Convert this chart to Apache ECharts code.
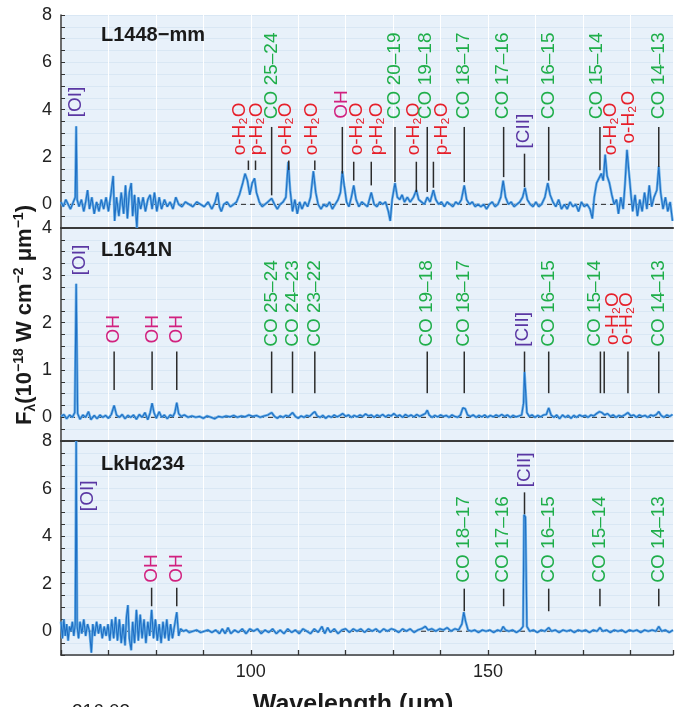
<!DOCTYPE html>
<html><head><meta charset="utf-8">
<script src="https://cdn.jsdelivr.net/npm/echarts@6/dist/echarts.min.js"></script>
<style>html,body{margin:0;padding:0;background:#fff}#c{width:676px;height:707px}</style>
</head><body><div id="c"></div>
<script>
// ---------- DATA ----------
const xMin = 60, xMax = 189;
const xTickLabels = [100, 150];
const yLabels1 = [0, 2, 4, 6, 8];
const yLabels2 = [0, 1, 2, 3, 4];
const yLabels3 = [0, 2, 4, 6, 8];
const panelNames = ['L1448\u2212mm', 'L1641N', 'LkH\u03b1234'];

// L1448-mm spectrum [wavelength (um), flux]
const spec1 = [[60.0,0.1],[60.5,-0.1],[61.0,0.2],[61.5,0.0],[62.0,-0.2],[62.6,0.1],[63.0,0.3],[63.2,3.3],[63.4,0.2],[63.8,-0.1],[64.3,0.2],[64.8,-0.3],[65.2,0.1],[65.6,0.6],[66.0,-0.2],[66.5,0.3],[67.0,-0.4],[67.5,0.1],[68.0,-0.3],[68.5,0.2],[69.0,-0.2],[69.5,0.3],[70.0,-0.3],[70.5,0.4],[71.0,1.2],[71.3,-0.7],[71.7,0.3],[72.2,-0.5],[72.7,0.5],[73.2,-0.4],[73.6,0.8],[74.0,-0.6],[74.4,0.5],[74.8,0.9],[75.1,-0.5],[75.5,0.4],[76.0,-1.0],[76.3,0.3],[76.8,-0.2],[77.3,0.3],[77.8,-0.3],[78.3,0.2],[78.8,0.4],[79.2,-0.2],[79.7,0.5],[80.2,-0.3],[80.7,0.3],[81.2,-0.2],[81.8,0.2],[82.4,-0.1],[83.0,0.1],[83.6,-0.2],[84.2,0.3],[84.8,0.0],[85.5,-0.1],[86.2,0.1],[87.0,0.0],[87.8,-0.1],[88.6,0.1],[89.4,0.0],[90.2,-0.1],[91.0,0.1],[91.8,-0.2],[92.5,0.1],[93.0,0.5],[93.4,-0.1],[93.8,-0.3],[94.3,0.0],[95.0,0.1],[95.7,-0.1],[96.4,0.0],[97.0,0.1],[97.6,0.4],[98.3,0.9],[98.8,1.3],[99.3,1.0],[99.8,0.4],[100.3,0.9],[100.8,1.1],[101.2,0.5],[101.8,0.1],[102.4,-0.1],[103.0,0.0],[103.6,0.1],[104.4,0.25],[105.0,0.0],[105.6,-0.2],[106.2,0.0],[106.8,0.1],[107.4,0.3],[107.9,1.8],[108.3,0.6],[108.8,-0.3],[109.3,0.2],[109.8,-0.4],[110.3,0.1],[110.8,-0.2],[111.4,0.1],[112.0,-0.1],[112.6,0.3],[113.2,1.4],[113.7,0.5],[114.2,0.0],[114.8,-0.2],[115.4,0.0],[116.0,-0.1],[116.6,0.1],[117.2,-0.2],[117.8,0.0],[118.4,0.2],[118.9,0.5],[119.3,1.4],[119.7,0.8],[120.2,0.1],[120.7,-0.1],[121.2,0.3],[121.7,0.8],[122.2,0.2],[122.8,-0.1],[123.4,0.1],[124.0,0.0],[124.6,-0.1],[125.4,0.5],[126.0,0.0],[126.6,-0.1],[127.2,0.1],[127.8,0.0],[128.4,0.1],[129.0,-0.3],[129.4,-0.7],[129.8,0.2],[130.4,0.9],[130.9,0.3],[131.4,0.2],[131.9,0.4],[132.4,0.1],[133.0,0.3],[133.6,0.1],[134.3,0.3],[134.9,0.6],[135.4,0.2],[136.0,0.1],[136.6,0.0],[137.2,0.3],[137.8,0.1],[138.5,0.6],[139.0,0.2],[139.6,0.0],[140.2,0.1],[140.8,-0.1],[141.4,0.1],[142.0,0.0],[142.6,-0.1],[143.2,0.1],[143.8,0.0],[144.4,0.2],[145.0,0.8],[145.5,0.2],[146.1,0.0],[146.7,0.1],[147.3,-0.1],[147.9,0.0],[148.5,-0.1],[149.1,0.0],[149.7,-0.2],[150.3,0.0],[150.9,0.1],[151.5,-0.1],[152.1,0.0],[152.7,0.3],[153.2,1.0],[153.7,0.3],[154.3,0.0],[154.9,0.1],[155.5,-0.1],[156.1,0.0],[156.7,0.1],[157.3,0.3],[157.8,0.7],[158.3,0.2],[158.9,0.0],[159.5,-0.1],[160.1,0.1],[160.7,-0.1],[161.3,0.0],[162.0,0.3],[162.6,0.9],[163.1,0.4],[163.7,0.1],[164.3,-0.1],[164.9,0.2],[165.5,-0.2],[166.1,0.0],[166.7,-0.2],[167.3,0.1],[167.9,-0.1],[168.5,0.0],[169.1,-0.3],[169.7,0.1],[170.3,-0.1],[170.9,0.0],[171.5,-0.2],[172.0,-0.6],[172.4,0.3],[172.9,0.9],[173.4,1.1],[173.9,1.3],[174.3,1.0],[174.7,2.1],[175.1,1.2],[175.6,0.9],[176.1,0.4],[176.6,0.0],[177.1,0.2],[177.5,-0.4],[178.0,0.3],[178.5,-0.2],[178.9,0.9],[179.3,2.3],[179.7,1.4],[180.1,0.5],[180.5,-0.3],[181.0,0.4],[181.5,-0.5],[182.0,0.2],[182.5,-0.3],[183.0,0.5],[183.5,-0.2],[184.0,0.8],[184.5,-0.1],[185.0,0.3],[185.6,0.6],[186.0,1.6],[186.4,0.5],[186.9,-0.2],[187.4,0.3],[187.9,-0.3],[188.4,0.1],[188.9,-0.7]];

// L1641N spectrum
const spec2 = [[60.0,0.02],[60.6,0.06],[61.2,-0.03],[61.8,0.05],[62.4,0.0],[62.9,0.1],[63.2,2.82],[63.5,0.08],[64.0,-0.04],[64.6,0.05],[65.2,0.0],[65.8,0.12],[66.3,-0.05],[67.0,0.04],[67.6,-0.03],[68.2,0.05],[68.8,0.0],[69.4,0.04],[70.0,-0.02],[70.6,0.06],[71.2,0.25],[71.7,0.05],[72.3,0.0],[72.9,0.06],[73.5,-0.03],[74.1,0.04],[74.7,0.0],[75.3,0.05],[75.9,-0.04],[76.5,0.06],[77.1,0.0],[77.7,0.1],[78.3,-0.05],[78.8,0.1],[79.2,0.3],[79.6,0.1],[80.1,-0.02],[80.7,0.12],[81.2,0.0],[81.8,0.05],[82.4,-0.03],[83.0,0.05],[83.6,0.02],[84.0,0.1],[84.4,0.31],[84.8,0.08],[85.3,0.02],[86.0,0.05],[86.8,0.0],[87.6,0.03],[88.4,0.0],[89.2,0.02],[90.0,-0.02],[90.8,0.03],[91.6,0.0],[92.4,-0.03],[93.2,0.02],[94.0,0.0],[94.8,0.03],[95.6,0.01],[96.4,0.04],[97.2,0.0],[98.0,0.03],[98.8,0.01],[99.6,0.05],[100.4,0.02],[101.2,0.04],[102.0,0.0],[102.8,0.03],[103.6,0.05],[104.4,0.1],[105.0,0.02],[105.6,-0.02],[106.2,0.03],[106.8,0.0],[107.4,0.04],[108.0,0.02],[108.8,0.1],[109.4,0.02],[110.0,-0.02],[110.6,0.03],[111.2,0.0],[111.8,0.04],[112.4,0.02],[113.0,0.08],[113.5,0.12],[114.0,0.03],[114.6,0.0],[115.2,0.04],[115.8,-0.02],[116.4,0.03],[117.0,0.0],[117.6,0.05],[118.2,0.01],[118.8,0.04],[119.4,0.08],[120.0,0.02],[120.6,0.05],[121.2,0.0],[121.8,0.04],[122.4,0.01],[123.0,0.05],[123.6,0.02],[124.2,0.07],[124.8,0.03],[125.4,0.05],[126.0,0.0],[126.6,0.05],[127.2,0.02],[127.8,0.06],[128.4,0.01],[129.0,0.05],[129.6,0.03],[130.2,0.08],[130.8,0.02],[131.4,0.05],[132.0,0.0],[132.6,0.06],[133.2,0.02],[133.8,0.05],[134.4,0.01],[135.0,0.06],[135.6,0.02],[136.2,0.05],[136.8,0.08],[137.2,0.15],[137.6,0.05],[138.2,0.0],[138.8,0.04],[139.4,0.01],[140.0,0.05],[140.6,0.02],[141.2,0.04],[141.8,0.0],[142.4,0.05],[143.0,0.02],[143.6,0.0],[144.2,0.05],[144.7,0.2],[145.2,0.18],[145.7,0.05],[146.3,0.02],[146.9,0.05],[147.5,0.0],[148.1,0.04],[148.7,0.01],[149.3,0.05],[149.9,0.0],[150.5,0.04],[151.1,0.01],[151.7,0.05],[152.3,0.02],[152.9,0.06],[153.5,0.02],[154.1,0.05],[154.7,0.0],[155.3,0.04],[155.9,0.01],[156.5,0.03],[157.1,0.05],[157.5,0.3],[157.7,0.96],[157.9,0.95],[158.2,0.1],[158.7,0.02],[159.3,0.05],[159.9,0.0],[160.5,0.04],[161.1,0.01],[161.7,0.05],[162.3,0.06],[162.8,0.2],[163.3,0.05],[163.9,0.0],[164.5,0.05],[165.1,-0.03],[165.7,0.05],[166.3,0.0],[166.9,0.04],[167.5,-0.02],[168.1,0.04],[168.7,0.0],[169.3,0.05],[169.9,0.02],[170.5,0.04],[171.1,0.0],[171.7,0.05],[172.3,0.03],[172.9,0.08],[173.5,0.12],[174.0,0.1],[174.6,0.05],[175.2,0.08],[175.8,0.02],[176.4,0.05],[177.0,0.0],[177.6,0.04],[178.2,0.02],[178.8,0.05],[179.5,0.1],[180.1,0.03],[180.7,0.05],[181.3,0.0],[181.9,0.05],[182.5,0.02],[183.1,0.04],[183.7,0.0],[184.3,0.05],[184.9,0.03],[185.5,0.06],[186.0,0.12],[186.5,0.04],[187.1,0.0],[187.7,0.05],[188.3,0.02],[188.9,0.06]];

// LkHa234 spectrum
const spec3 = [[60.0,0.4],[60.3,-0.3],[60.6,0.5],[60.9,-0.2],[61.2,0.3],[61.5,-0.4],[61.8,0.2],[62.1,0.0],[62.4,0.4],[62.7,-0.2],[63.0,0.3],[63.2,8.0],[63.4,0.2],[63.7,-0.3],[64.0,0.4],[64.4,-0.1],[64.8,0.5],[65.2,-0.2],[65.6,0.3],[66.0,0.0],[66.4,-0.9],[66.7,0.3],[67.1,-0.2],[67.5,0.4],[67.9,-0.1],[68.3,0.3],[68.7,-0.3],[69.1,0.2],[69.5,-0.2],[69.9,0.3],[70.3,-0.4],[70.7,0.5],[71.1,-0.3],[71.5,0.6],[71.9,-0.4],[72.3,0.5],[72.7,-0.5],[73.1,0.3],[73.5,-0.6],[73.8,0.6],[74.1,1.1],[74.4,-0.3],[74.8,-0.8],[75.1,0.4],[75.5,-0.5],[75.9,0.9],[76.3,-0.4],[76.7,0.7],[77.1,-0.3],[77.5,0.5],[77.9,-0.5],[78.3,0.4],[78.7,-0.2],[79.1,0.9],[79.5,-0.3],[79.9,0.5],[80.3,-0.4],[80.7,0.3],[81.1,-0.5],[81.5,0.4],[81.9,-0.3],[82.3,0.5],[82.7,-0.4],[83.1,0.3],[83.5,-0.3],[83.9,0.2],[84.4,0.8],[84.8,-0.2],[85.2,0.1],[85.8,0.0],[86.4,0.05],[87.0,-0.05],[87.8,0.0],[88.6,0.05],[89.4,-0.05],[90.2,0.0],[91.0,0.05],[91.8,-0.05],[92.6,0.05],[93.4,-0.1],[94.0,0.1],[94.6,-0.1],[95.2,0.15],[95.8,-0.1],[96.6,0.05],[97.4,-0.05],[98.2,0.1],[99.0,-0.1],[99.8,0.1],[100.6,0.0],[101.4,0.1],[102.2,-0.1],[103.0,0.05],[103.8,-0.05],[104.6,0.1],[105.4,-0.1],[106.2,0.05],[107.0,-0.1],[107.8,0.1],[108.6,-0.05],[109.4,0.05],[110.2,-0.1],[111.0,0.1],[111.8,0.0],[112.6,-0.1],[113.4,0.1],[114.2,-0.05],[115.0,0.2],[115.6,-0.1],[116.2,0.15],[116.8,-0.05],[117.6,0.1],[118.4,-0.1],[119.2,0.05],[120.0,0.1],[120.8,-0.05],[121.6,0.1],[122.4,0.0],[123.2,0.1],[124.0,-0.05],[124.8,0.1],[125.6,0.0],[126.4,0.1],[127.2,-0.05],[128.0,0.1],[128.8,0.0],[129.6,0.1],[130.4,0.05],[131.2,-0.05],[132.0,0.1],[132.8,0.0],[133.6,0.1],[134.4,-0.05],[135.2,0.05],[136.0,0.1],[136.8,0.2],[137.4,0.05],[138.2,0.1],[139.0,0.0],[139.8,0.1],[140.6,0.05],[141.4,0.15],[142.2,0.0],[143.0,0.1],[143.8,0.05],[144.5,0.3],[144.9,0.8],[145.3,0.4],[145.8,0.05],[146.5,0.0],[147.2,0.05],[148.0,-0.05],[148.8,0.05],[149.6,0.0],[150.4,0.05],[151.2,-0.05],[152.0,0.05],[152.7,0.0],[153.2,0.2],[153.7,0.05],[154.4,0.0],[155.2,0.05],[156.0,-0.05],[156.8,0.05],[157.4,0.2],[157.6,4.9],[157.9,4.8],[158.2,0.2],[158.8,0.0],[159.6,0.05],[160.4,-0.05],[161.2,0.05],[162.0,0.0],[162.8,0.15],[163.4,0.0],[164.2,0.05],[165.0,-0.05],[165.8,0.05],[166.6,0.0],[167.4,0.05],[168.2,-0.05],[169.0,0.05],[169.8,0.0],[170.6,0.05],[171.4,-0.05],[172.2,0.05],[173.0,0.0],[173.6,0.15],[174.2,0.0],[175.0,0.05],[175.8,-0.05],[176.6,0.05],[177.4,0.0],[178.2,0.05],[179.0,-0.05],[179.8,0.05],[180.6,0.0],[181.4,0.05],[182.2,-0.05],[183.0,0.05],[183.8,0.0],[184.6,0.05],[185.4,0.0],[186.0,0.2],[186.6,0.0],[187.4,0.05],[188.2,-0.05],[189.0,0.05]];

// Line identifications, panel 1
const id1Text = ['[OI]','o-H\u2082O','p-H\u2082O','CO 25\u201324','o-H\u2082O','o-H\u2082O','OH','o-H\u2082O','p-H\u2082O','CO 20\u201319','o-H\u2082O','CO 19\u201318','p-H\u2082O','CO 18\u201317','CO 17\u201316','[CII]','CO 16\u201315','CO 15\u201314','o-H\u2082O','o-H\u2082O','CO 14\u201313'];
const id1Species = ['OI','H2O','H2O','CO','H2O','H2O','OH','H2O','H2O','CO','H2O','CO','H2O','CO','CO','OI','CO','CO','H2O','H2O','CO'];
const id1LabelWl = [63.2, 97.6, 101.2, 104.4, 107.4, 112.9, 119.2, 122.4, 126.6, 130.4, 134.3, 136.8, 140.3, 145.0, 153.2, 157.5, 162.8, 173.0, 175.8, 179.7, 186.0];
const id1LabelBase = [3.68, 2.07, 2.07, 3.6, 2.07, 2.07, 3.62, 2.07, 2.07, 3.6, 2.07, 3.6, 2.07, 3.6, 3.6, 2.36, 3.6, 3.6, 2.07, 2.57, 3.6];
const id1TickWl = [null, 99.5, 101.0, 104.4, 108.0, 113.5, 119.3, 121.7, 125.4, 130.4, 134.9, 137.2, 138.5, 145.0, 153.3, 157.7, 162.8, 173.6, null, null, 186.0];
const id1TickTop = [null, 1.85, 1.85, 3.27, 1.85, 1.85, 3.27, 1.8, 1.8, 3.27, 1.8, 3.27, 1.8, 3.27, 3.27, 2.14, 3.27, 3.27, null, null, 3.27];
const id1TickBottom = [null, 1.45, 1.45, 0.38, 1.45, 1.45, 1.3, 1.0, 0.8, 0.94, 0.52, 0.52, 0.7, 0.94, 1.15, 0.73, 1.0, 1.44, null, null, 1.58];

// panel 2
const id2Text = ['[OI]','OH','OH','OH','CO 25\u201324','CO 24\u201323','CO 23\u201322','CO 19\u201318','CO 18\u201317','[CII]','CO 16\u201315','CO 15\u201314','o-H\u2082O','o-H\u2082O','CO 14\u201313'];
const id2Species = ['OI','OH','OH','OH','CO','CO','CO','CO','CO','OI','CO','CO','H2O','H2O','CO'];
const id2LabelWl = [64.0, 71.2, 79.3, 84.4, 104.4, 108.8, 113.5, 137.2, 145.0, 157.4, 162.8, 172.6, 176.2, 179.3, 186.0];
const id2LabelBase = [3.0, 1.56, 1.56, 1.56, 1.49, 1.49, 1.49, 1.49, 1.49, 1.49, 1.49, 1.49, 1.53, 1.53, 1.49];
const id2TickWl = [null, 71.2, 79.2, 84.4, 104.4, 108.8, 113.5, 137.2, 145.0, 157.7, 162.8, 173.7, 174.5, 179.5, 186.0];
const id2TickTop = [null, 1.39, 1.39, 1.39, 1.39, 1.39, 1.39, 1.39, 1.39, 1.39, 1.39, 1.39, 1.39, 1.39, 1.39];
const id2TickBottom = [null, 0.58, 0.58, 0.58, 0.51, 0.51, 0.51, 0.51, 0.51, 0.96, 0.51, 0.51, 0.51, 0.51, 0.51];

// panel 3
const id3Text = ['[OI]','OH','OH','CO 18\u201317','CO 17\u201316','[CII]','CO 16\u201315','CO 15\u201314','CO 14\u201313'];
const id3Species = ['OI','OH','OH','CO','CO','OI','CO','CO','CO'];
const id3LabelWl = [65.7, 79.1, 84.4, 145.0, 153.2, 157.7, 162.8, 173.5, 186.0];
const id3LabelBase = [5.05, 2.04, 2.04, 2.04, 2.04, 6.05, 2.04, 2.04, 2.04];
const id3TickWl = [null, 79.1, 84.4, 145.0, 153.3, 157.7, 162.8, 173.6, 186.0];
const id3TickTop = [null, 1.83, 1.83, 1.79, 1.79, 5.84, 1.79, 1.79, 1.79];
const id3TickBottom = [null, 1.05, 1.05, 0.84, 1.05, 4.92, 0.84, 1.05, 1.05];

// ---------- STYLE ----------
const FONT = '"Liberation Sans", Arial, Helvetica, sans-serif';
const speciesColor = { OI: '#5a37a3', CO: '#1fae4a', H2O: '#e61f2a', OH: '#d1217f' };
const bg = '#e8f1fa';

const chart = echarts.init(document.getElementById('c'), null, { renderer: 'canvas' });

const grids = [
  { left: 61, width: 612, top: 15, height: 213 },
  { left: 61, width: 612, top: 228, height: 213 },
  { left: 61, width: 612, top: 441, height: 214 }
].map(g => Object.assign(g, { show: true, backgroundColor: bg, borderWidth: 0, containLabel: false }));

function xAxisFor(i) {
  const last = i === 2;
  return {
    type: 'value', gridIndex: i, min: xMin, max: xMax, interval: 10,
    axisLine: { show: true, onZero: false, lineStyle: { color: '#3a3a3a', width: last ? 1.6 : 2.2 } },
    axisTick: { show: last, inside: true, length: 5, lineStyle: { color: '#333', width: 1.3 } },
    axisLabel: {
      show: last, margin: 8, color: '#222', fontSize: 18, fontFamily: FONT,
      formatter: v => (xTickLabels.indexOf(v) >= 0 ? String(v) : '')
    },
    splitLine: { show: true, lineStyle: { color: '#ffffff', width: 1 } }
  };
}
function range(a, b, s) { const r = []; for (let v = a; v <= b + 1e-9; v += s) r.push(Math.round(v * 100) / 100); return r; }
function yAxisFor(i, min, max, labels, minorStep) {
  return {
    type: 'value', gridIndex: i, min: min, max: max,
    axisLine: { show: true, onZero: false, lineStyle: { color: '#3a3a3a', width: 1.5 } },
    axisTick: { show: true, inside: true, length: 4, customValues: range(min, max, minorStep), lineStyle: { color: '#333' } },
    axisLabel: { show: true, customValues: labels, margin: 9, color: '#222', fontSize: 18, fontFamily: FONT },
    splitLine: { show: true, lineStyle: { color: '#d9e7f4', width: 1 } }
  };
}

function spectrumSeries(i, data) {
  return [
    { type: 'line', xAxisIndex: i, yAxisIndex: i, data: [[xMin, 0], [xMax, 0]], symbol: 'none', silent: true, z: 1,
      lineStyle: { color: '#222', width: 1, type: [5, 4] } },
    { type: 'line', xAxisIndex: i, yAxisIndex: i, data: data, symbol: 'none', silent: true, z: 2,
      lineStyle: { color: '#6db2e8', width: 2.6 } },
    { type: 'line', xAxisIndex: i, yAxisIndex: i, data: data, symbol: 'none', silent: true, z: 3,
      lineStyle: { color: '#1f6fc4', width: 1.1 } }
  ];
}

function idSeries(i, texts, species, lwl, lbase, twl, ttop, tbot) {
  return {
    type: 'custom', xAxisIndex: i, yAxisIndex: i, z: 5, silent: true, clip: false,
    data: lwl.map((w, k) => [w, lbase[k]]),
    encode: { x: 0, y: 1 },
    renderItem: function (params, api) {
      const k = params.dataIndex;
      const children = [];
      const p = api.coord([lwl[k], lbase[k]]);
      children.push({
        type: 'text', x: p[0], y: p[1], rotation: Math.PI / 2,
        style: {
          text: texts[k], fill: speciesColor[species[k]],
          font: '19px ' + FONT,
          align: 'left', verticalAlign: 'middle',
          textAlign: 'left', textVerticalAlign: 'middle'
        }
      });
      if (twl[k] != null) {
        const a = api.coord([twl[k], ttop[k]]);
        const b = api.coord([twl[k], tbot[k]]);
        children.push({ type: 'line', shape: { x1: a[0], y1: a[1], x2: b[0], y2: b[1] },
          style: { stroke: '#2b2b2b', lineWidth: 1.5 } });
      }
      return { type: 'group', children: children };
    }
  };
}

const option = {
  animation: false,
  backgroundColor: '#ffffff',
  grid: grids,
  xAxis: [xAxisFor(0), xAxisFor(1), xAxisFor(2)],
  yAxis: [
    yAxisFor(0, -1, 8, yLabels1, 0.5),
    yAxisFor(1, -0.5, 4, yLabels2, 0.25),
    yAxisFor(2, -1, 8, yLabels3, 0.5)
  ],
  series: [].concat(
    spectrumSeries(0, spec1), spectrumSeries(1, spec2), spectrumSeries(2, spec3),
    [idSeries(0, id1Text, id1Species, id1LabelWl, id1LabelBase, id1TickWl, id1TickTop, id1TickBottom),
     idSeries(1, id2Text, id2Species, id2LabelWl, id2LabelBase, id2TickWl, id2TickTop, id2TickBottom),
     idSeries(2, id3Text, id3Species, id3LabelWl, id3LabelBase, id3TickWl, id3TickTop, id3TickBottom)]
  ),
  graphic: [
    { type: 'text', left: 101, top: 25, z: 10, style: { text: panelNames[0], font: 'bold 20px ' + FONT, fill: '#1a1a1a' } },
    { type: 'text', left: 101, top: 240, z: 10, style: { text: panelNames[1], font: 'bold 20px ' + FONT, fill: '#1a1a1a' } },
    { type: 'text', left: 101, top: 454, z: 10, style: { text: panelNames[2], font: 'bold 20px ' + FONT, fill: '#1a1a1a' } },
    { type: 'text', x: 353, y: 693, z: 10,
      style: { text: 'Wavelength (\u03bcm)', font: 'bold 25px ' + FONT, fill: '#1a1a1a', align: 'center', verticalAlign: 'top', textAlign: 'center', textVerticalAlign: 'top' } },
    { type: 'text', x: 72, y: 702, z: 10,
      style: { text: '216.03', font: '19px ' + FONT, fill: '#1a1a1a' } },
    { type: 'text', x: 25, y: 315, rotation: Math.PI / 2, z: 10,
      style: {
        text: '{b|F}{sub|\u03bb}{b|(10}{sup|\u221218}{b| W cm}{sup|\u22122}{b| \u03bcm}{sup|\u22121}{b|)}',
        align: 'center', verticalAlign: 'middle', textAlign: 'center', textVerticalAlign: 'middle',
        fill: '#1a1a1a',
        rich: {
          b: { fontSize: 22, fontWeight: 'bold', fontFamily: FONT, fill: '#1a1a1a', lineHeight: 26 },
          sup: { fontSize: 14, fontWeight: 'bold', fontFamily: FONT, fill: '#1a1a1a', verticalAlign: 'top', lineHeight: 26 },
          sub: { fontSize: 14, fontWeight: 'bold', fontFamily: FONT, fill: '#1a1a1a', verticalAlign: 'bottom', lineHeight: 26 }
        }
      } }
  ]
};
chart.setOption(option);
</script>
</body></html>
